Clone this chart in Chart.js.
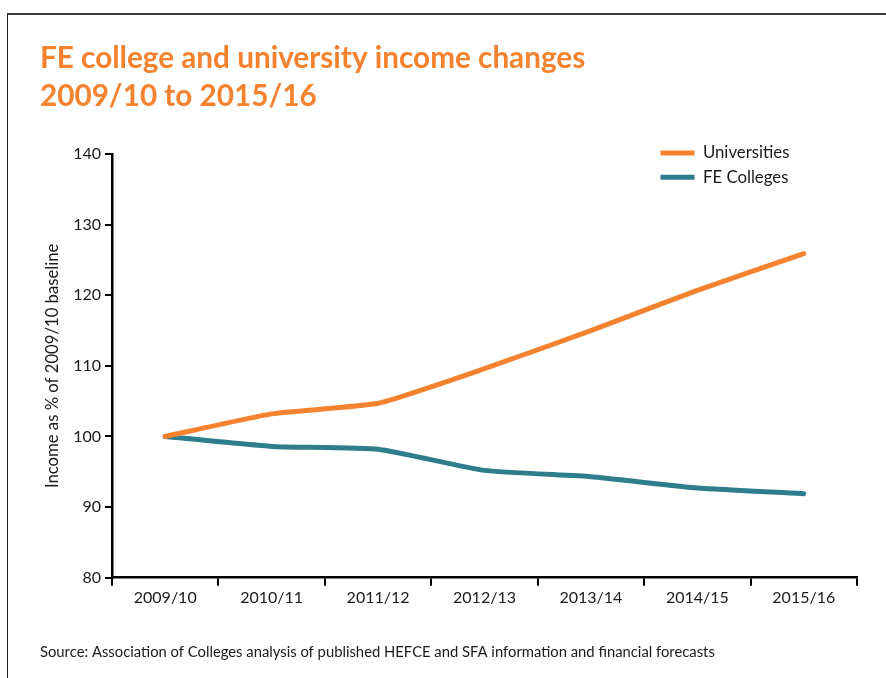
<!DOCTYPE html>
<html>
<head>
<meta charset="utf-8">
<title>FE college and university income changes</title>
<script src="https://cdn.jsdelivr.net/npm/chart.js@4/dist/chart.umd.min.js"></script>
<style>
  html, body { margin: 0; padding: 0; background: #fff; }
  #wrap { position: relative; width: 886px; height: 678px; overflow: hidden; }
  /* page frame: heavy rule along the top, thin rule down the left */
  #frame {
    position: absolute; left: 7px; top: 13px; width: 900px; height: 700px;
    border-top: 2px solid #3c3c3c; border-left: 1px solid #222;
  }
  #chart { position: absolute; left: 0; top: 0; }
</style>
</head>
<body>
<div id="wrap">
  <div id="frame"></div>
  <canvas id="chart" width="886" height="678"></canvas>
</div>
<script>
// income indexed to 2009/10 = 100
const years = ['2009/10', '2010/11', '2011/12', '2012/13', '2013/14', '2014/15', '2015/16'];
const universities = [100, 103.2, 104.7, 109.6, 115.0, 120.7, 125.9];
const feColleges = [100, 98.6, 98.2, 95.2, 94.3, 92.7, 91.9];

const titleLines = ['FE college and university income changes', '2009/10 to 2015/16'];
const sourceNote = 'Source: Association of Colleges analysis of published HEFCE and SFA information and financial forecasts';
const yTitle = 'Income as % of 2009/10 baseline';

const orange = '#f5822f';
const teal = '#2e7d8c';
const ink = '#1a1a1a';

Chart.defaults.font.family = 'Lato, "Open Sans", sans-serif';
Chart.defaults.color = ink;

// move the legend up into the top right corner of the plot
const legendSpot = {
  id: 'legendSpot',
  afterLayout(chart) {
    const lg = chart.legend;
    const area = chart.chartArea;
    const dx = (area.left + 541) - lg.left;
    const dy = (area.top - 17) - lg.top;
    lg.left += dx; lg.right += dx;
    lg.top += dy; lg.bottom += dy;
  }
};

const ctx = document.getElementById('chart');

new Chart(ctx, {
  type: 'line',
  data: {
    labels: years,
    datasets: [
      {
        label: 'Universities',
        data: universities,
        borderColor: orange,
        backgroundColor: orange,
        borderWidth: 5,
        borderCapStyle: 'round',
        borderJoinStyle: 'round',
        pointRadius: 0,
        tension: 0.15
      },
      {
        label: 'FE Colleges',
        data: feColleges,
        borderColor: teal,
        backgroundColor: teal,
        borderWidth: 5,
        borderCapStyle: 'round',
        borderJoinStyle: 'round',
        pointRadius: 0,
        tension: 0.15
      }
    ]
  },
  options: {
    responsive: false,
    animation: false,
    layout: { padding: { left: 40, right: 29, top: 0, bottom: 17 } },
    scales: {
      x: {
        offset: true,
        grid: { offset: true, drawOnChartArea: false, drawTicks: true, tickLength: 8, color: '#000', lineWidth: 2 },
        border: { display: true, color: '#000', width: 2.5 },
        ticks: { color: ink, font: { size: 16 }, padding: 3, maxRotation: 0 },
        afterFit(scale) { scale.height = 50; }
      },
      y: {
        min: 80,
        max: 140,
        grid: { drawOnChartArea: false, drawTicks: true, tickLength: 7, color: '#000', lineWidth: 2 },
        border: { display: true, color: '#000', width: 2.5 },
        ticks: { stepSize: 10, color: ink, font: { size: 16 }, padding: 4 },
        title: { display: true, text: yTitle, color: ink, font: { size: 16.7 }, padding: { top: 3, bottom: 0 } },
        afterFit(scale) { scale.width = 72; }
      }
    },
    plugins: {
      title: {
        display: true,
        text: titleLines,
        align: 'start',
        color: orange,
        font: { size: 29.7, weight: 'bold', lineHeight: 38 / 29.7 },
        padding: { top: 39, bottom: 39 }
      },
      subtitle: {
        display: true,
        position: 'bottom',
        text: sourceNote,
        align: 'start',
        color: ink,
        font: { size: 14.8, lineHeight: 1.2 },
        padding: { top: 15.5, bottom: 0 }
      },
      legend: {
        position: 'chartArea',
        align: 'start',
        labels: {
          usePointStyle: true,
          pointStyle: 'line',
          pointStyleWidth: 34,
          color: ink,
          font: { size: 16.8 },
          padding: 7.5
        }
      },
      tooltip: { enabled: false }
    }
  },
  plugins: [legendSpot]
});
</script>
</body>
</html>
